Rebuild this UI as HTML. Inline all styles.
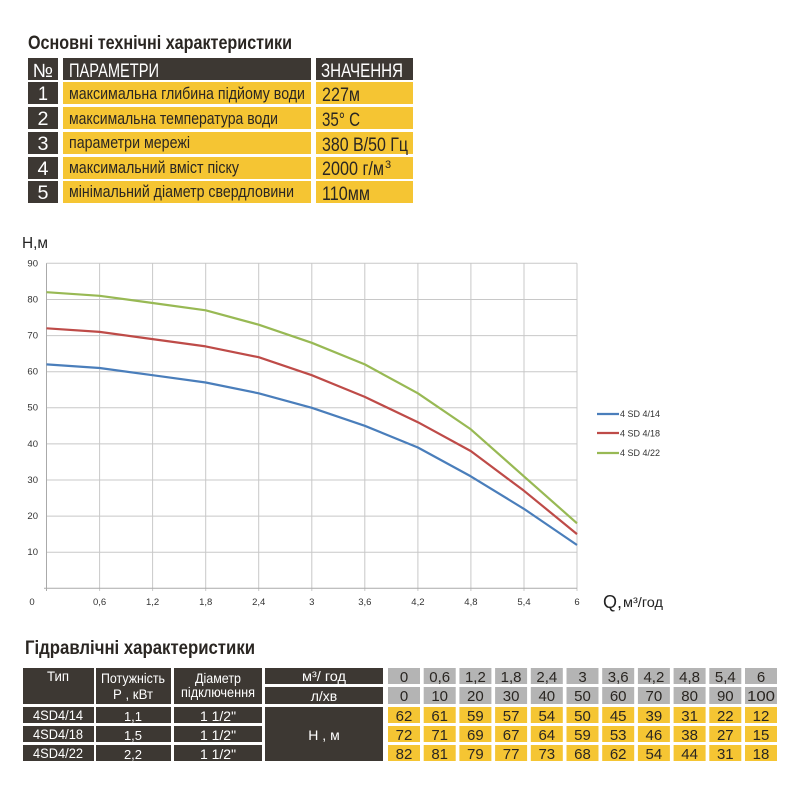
<!DOCTYPE html>
<html><head><meta charset="utf-8"><style>
html,body{margin:0;padding:0;background:#fff;}
svg{display:block;}
.t{font-family:"Liberation Sans Narrow","Liberation Sans",sans-serif;}
.c{font-family:"Liberation Sans",sans-serif;}
</style></head><body>
<svg width="800" height="800" viewBox="0 0 800 800" xmlns="http://www.w3.org/2000/svg">
<rect width="800" height="800" fill="#fff"/>
<text class="t" x="28" y="49" font-size="19" font-weight="bold" fill="#2a2622" textLength="264" lengthAdjust="spacingAndGlyphs">Основні технічні характеристики</text>
<g fill="#3d3833">
<rect x="28" y="58" width="30" height="22"/>
<rect x="63" y="58" width="248" height="22"/>
<rect x="316" y="58" width="97" height="22"/>
<rect x="28" y="82" width="30" height="22"/>
<rect x="28" y="107" width="30" height="22"/>
<rect x="28" y="132" width="30" height="22"/>
<rect x="28" y="157" width="30" height="22"/>
<rect x="28" y="181" width="30" height="22"/>
</g>
<g fill="#f5c533">
<rect x="63" y="82" width="248" height="22"/><rect x="316" y="82" width="97" height="22"/>
<rect x="63" y="107" width="248" height="22"/><rect x="316" y="107" width="97" height="22"/>
<rect x="63" y="132" width="248" height="22"/><rect x="316" y="132" width="97" height="22"/>
<rect x="63" y="157" width="248" height="22"/><rect x="316" y="157" width="97" height="22"/>
<rect x="63" y="181" width="248" height="22"/><rect x="316" y="181" width="97" height="22"/>
</g>
<g class="t" fill="#fff" font-size="19">
<text x="43" y="77" text-anchor="middle">№</text>
<text x="69" y="77" textLength="90" lengthAdjust="spacingAndGlyphs">ПАРАМЕТРИ</text>
<text x="321" y="77" textLength="82" lengthAdjust="spacingAndGlyphs">ЗНАЧЕННЯ</text>
<text x="43" y="100" text-anchor="middle" textLength="10" lengthAdjust="spacingAndGlyphs">1</text>
<text x="43" y="125" text-anchor="middle" textLength="11" lengthAdjust="spacingAndGlyphs">2</text>
<text x="43" y="150" text-anchor="middle" textLength="11" lengthAdjust="spacingAndGlyphs">3</text>
<text x="43" y="175" text-anchor="middle" textLength="11" lengthAdjust="spacingAndGlyphs">4</text>
<text x="43" y="199" text-anchor="middle" textLength="11" lengthAdjust="spacingAndGlyphs">5</text>
</g>
<g class="t" fill="#2a2622" font-size="17">
<text x="69" y="99" textLength="236" lengthAdjust="spacingAndGlyphs">максимальна глибина підйому води</text>
<text x="69" y="124" textLength="209" lengthAdjust="spacingAndGlyphs">максимальна температура води</text>
<text x="69" y="148" textLength="121" lengthAdjust="spacingAndGlyphs">параметри мережі</text>
<text x="69" y="173" textLength="170" lengthAdjust="spacingAndGlyphs">максимальний вміст піску</text>
<text x="69" y="197" textLength="225" lengthAdjust="spacingAndGlyphs">мінімальний діаметр свердловини</text>
</g>
<g class="t" fill="#2a2622" font-size="19">
<text x="322" y="101" textLength="38" lengthAdjust="spacingAndGlyphs">227м</text>
<text x="322" y="126" textLength="38" lengthAdjust="spacingAndGlyphs">35° C</text>
<text x="322" y="151" textLength="86" lengthAdjust="spacingAndGlyphs">380 В/50 Гц</text>
<text x="322" y="175" textLength="62" lengthAdjust="spacingAndGlyphs">2000 г/м</text>
<text x="385" y="168" font-size="11">3</text>
<text x="322" y="200" textLength="48" lengthAdjust="spacingAndGlyphs">110мм</text>
</g>

<text class="t" x="22" y="248" font-size="16" fill="#222" textLength="26" lengthAdjust="spacingAndGlyphs">Н,м</text>
<g stroke="#c8c8c8" stroke-width="1">
<line x1="46.5" y1="263.3" x2="577" y2="263.3"/>
<line x1="46.5" y1="299.5" x2="577" y2="299.5"/>
<line x1="46.5" y1="335.6" x2="577" y2="335.6"/>
<line x1="46.5" y1="371.7" x2="577" y2="371.7"/>
<line x1="46.5" y1="407.8" x2="577" y2="407.8"/>
<line x1="46.5" y1="443.9" x2="577" y2="443.9"/>
<line x1="46.5" y1="480" x2="577" y2="480"/>
<line x1="46.5" y1="516.1" x2="577" y2="516.1"/>
<line x1="46.5" y1="552.2" x2="577" y2="552.2"/>
<line x1="99.6" y1="263.3" x2="99.6" y2="591"/>
<line x1="152.6" y1="263.3" x2="152.6" y2="591"/>
<line x1="205.7" y1="263.3" x2="205.7" y2="591"/>
<line x1="258.7" y1="263.3" x2="258.7" y2="591"/>
<line x1="311.8" y1="263.3" x2="311.8" y2="591"/>
<line x1="364.8" y1="263.3" x2="364.8" y2="591"/>
<line x1="417.9" y1="263.3" x2="417.9" y2="591"/>
<line x1="470.9" y1="263.3" x2="470.9" y2="591"/>
<line x1="524" y1="263.3" x2="524" y2="591"/>
<line x1="577" y1="263.3" x2="577" y2="591"/>
</g>
<g stroke="#aaa" stroke-width="1">
<line x1="44" y1="588.3" x2="577" y2="588.3"/>
<line x1="46.5" y1="263.3" x2="46.5" y2="591"/>
</g>
<g class="c" font-size="9.5" fill="#333" text-anchor="end">
<text x="38" y="266.5">90</text><text x="38" y="302.5">80</text><text x="38" y="338.5">70</text>
<text x="38" y="374.5">60</text><text x="38" y="410.5">50</text><text x="38" y="447">40</text>
<text x="38" y="483">30</text><text x="38" y="519">20</text><text x="38" y="555">10</text>
</g>
<g class="c" font-size="9.5" fill="#333" text-anchor="middle">
<text x="32" y="605">0</text>
<text x="99.6" y="605">0,6</text><text x="152.6" y="605">1,2</text><text x="205.7" y="605">1,8</text>
<text x="258.7" y="605">2,4</text><text x="311.8" y="605">3</text><text x="364.8" y="605">3,6</text>
<text x="417.9" y="605">4,2</text><text x="470.9" y="605">4,8</text><text x="524" y="605">5,4</text>
<text x="577" y="605">6</text>
</g>
<text class="t" x="603" y="608" font-size="18" fill="#222">Q,</text>
<text class="t" x="623" y="607" font-size="14" fill="#222" textLength="40" lengthAdjust="spacingAndGlyphs">м³/год</text>
<g fill="none" stroke-width="2.2" stroke-linejoin="round">
<polyline stroke="#98b954" points="46.5,292.2 99.6,295.8 152.6,303 205.7,310.3 258.7,324.7 311.8,342.8 364.8,364.4 417.9,393.3 470.9,429.4 524,476.4 577,523.3"/>
<polyline stroke="#be4b48" points="46.5,328.3 99.6,331.9 152.6,339.1 205.7,346.4 258.7,357.2 311.8,375.2 364.8,396.9 417.9,422.2 470.9,451.1 524,490.8 577,534.1"/>
<polyline stroke="#4a7ebb" points="46.5,364.4 99.6,368 152.6,375.2 205.7,382.5 258.7,393.3 311.8,407.8 364.8,425.8 417.9,447.5 470.9,476.4 524,508.9 577,545"/>
</g>
<g stroke-width="2.2">
<line x1="597" y1="414" x2="619" y2="414" stroke="#4a7ebb"/>
<line x1="597" y1="433" x2="619" y2="433" stroke="#be4b48"/>
<line x1="597" y1="453" x2="619" y2="453" stroke="#98b954"/>
</g>
<g class="c" font-size="9" fill="#333">
<text x="620" y="417">4 SD 4/14</text>
<text x="620" y="436.5">4 SD 4/18</text>
<text x="620" y="456">4 SD 4/22</text>
</g>

<text class="t" x="25" y="654" font-size="19" font-weight="bold" fill="#2a2622" textLength="230" lengthAdjust="spacingAndGlyphs">Гідравлічні характеристики</text>
<g fill="#3d3833">
<rect x="23" y="668" width="71" height="36"/>
<rect x="96" y="668" width="75" height="36"/>
<rect x="174" y="668" width="88" height="36"/>
<rect x="265" y="668" width="118" height="16"/>
<rect x="265" y="687" width="118" height="17"/>
<rect x="23" y="707" width="71" height="16"/><rect x="96" y="707" width="75" height="16"/><rect x="174" y="707" width="88" height="16"/>
<rect x="23" y="726" width="71" height="16"/><rect x="96" y="726" width="75" height="16"/><rect x="174" y="726" width="88" height="16"/>
<rect x="23" y="745" width="71" height="16"/><rect x="96" y="745" width="75" height="16"/><rect x="174" y="745" width="88" height="16"/>
<rect x="265" y="707" width="118" height="54"/>
</g>
<g class="t" fill="#fff" font-size="14" text-anchor="middle">
<text x="58" y="681" textLength="22" lengthAdjust="spacingAndGlyphs">Тип</text>
<text x="133" y="683" textLength="64" lengthAdjust="spacingAndGlyphs">Потужність</text>
<text x="133" y="699" textLength="40" lengthAdjust="spacingAndGlyphs">Р , кВт</text>
<text x="218" y="683" textLength="46" lengthAdjust="spacingAndGlyphs">Діаметр</text>
<text x="218" y="697" textLength="74" lengthAdjust="spacingAndGlyphs">підключення</text>
<text x="324" y="681" textLength="44" lengthAdjust="spacingAndGlyphs">м³/ год</text>
<text x="324" y="701">л/хв</text>
<text x="58" y="720" textLength="50" lengthAdjust="spacingAndGlyphs">4SD4/14</text><text x="133" y="721" font-size="13">1,1</text><text x="218" y="721">1 1/2"</text>
<text x="58" y="739" textLength="50" lengthAdjust="spacingAndGlyphs">4SD4/18</text><text x="133" y="740" font-size="13">1,5</text><text x="218" y="740">1 1/2"</text>
<text x="58" y="758" textLength="50" lengthAdjust="spacingAndGlyphs">4SD4/22</text><text x="133" y="759" font-size="13">2,2</text><text x="218" y="759">1 1/2"</text>
<text x="324" y="740">Н , м</text>
</g>
<g class="t" font-size="15" text-anchor="middle" fill="#2a2622">
<g fill="#b4b4b4">
<rect x="388" y="668" width="32" height="16"/><rect x="423.7" y="668" width="32" height="16"/><rect x="459.4" y="668" width="32" height="16"/><rect x="495.1" y="668" width="32" height="16"/><rect x="530.8" y="668" width="32" height="16"/><rect x="566.5" y="668" width="32" height="16"/><rect x="602.2" y="668" width="32" height="16"/><rect x="637.9" y="668" width="32" height="16"/><rect x="673.6" y="668" width="32" height="16"/><rect x="709.3" y="668" width="32" height="16"/><rect x="745" y="668" width="32" height="16"/>
<rect x="388" y="687" width="32" height="17"/><rect x="423.7" y="687" width="32" height="17"/><rect x="459.4" y="687" width="32" height="17"/><rect x="495.1" y="687" width="32" height="17"/><rect x="530.8" y="687" width="32" height="17"/><rect x="566.5" y="687" width="32" height="17"/><rect x="602.2" y="687" width="32" height="17"/><rect x="637.9" y="687" width="32" height="17"/><rect x="673.6" y="687" width="32" height="17"/><rect x="709.3" y="687" width="32" height="17"/><rect x="745" y="687" width="32" height="17"/>
</g>
<g fill="#f5c533">
<rect x="388" y="707" width="32" height="16"/><rect x="423.7" y="707" width="32" height="16"/><rect x="459.4" y="707" width="32" height="16"/><rect x="495.1" y="707" width="32" height="16"/><rect x="530.8" y="707" width="32" height="16"/><rect x="566.5" y="707" width="32" height="16"/><rect x="602.2" y="707" width="32" height="16"/><rect x="637.9" y="707" width="32" height="16"/><rect x="673.6" y="707" width="32" height="16"/><rect x="709.3" y="707" width="32" height="16"/><rect x="745" y="707" width="32" height="16"/>
<rect x="388" y="726" width="32" height="16"/><rect x="423.7" y="726" width="32" height="16"/><rect x="459.4" y="726" width="32" height="16"/><rect x="495.1" y="726" width="32" height="16"/><rect x="530.8" y="726" width="32" height="16"/><rect x="566.5" y="726" width="32" height="16"/><rect x="602.2" y="726" width="32" height="16"/><rect x="637.9" y="726" width="32" height="16"/><rect x="673.6" y="726" width="32" height="16"/><rect x="709.3" y="726" width="32" height="16"/><rect x="745" y="726" width="32" height="16"/>
<rect x="388" y="745" width="32" height="16"/><rect x="423.7" y="745" width="32" height="16"/><rect x="459.4" y="745" width="32" height="16"/><rect x="495.1" y="745" width="32" height="16"/><rect x="530.8" y="745" width="32" height="16"/><rect x="566.5" y="745" width="32" height="16"/><rect x="602.2" y="745" width="32" height="16"/><rect x="637.9" y="745" width="32" height="16"/><rect x="673.6" y="745" width="32" height="16"/><rect x="709.3" y="745" width="32" height="16"/><rect x="745" y="745" width="32" height="16"/>
</g>
<g>
<text x="404" y="682">0</text><text x="439.7" y="682">0,6</text><text x="475.4" y="682">1,2</text><text x="511.1" y="682">1,8</text><text x="546.8" y="682">2,4</text><text x="582.5" y="682">3</text><text x="618.2" y="682">3,6</text><text x="653.9" y="682">4,2</text><text x="689.6" y="682">4,8</text><text x="725.3" y="682">5,4</text><text x="761" y="682">6</text>
<text x="404" y="701">0</text><text x="439.7" y="701">10</text><text x="475.4" y="701">20</text><text x="511.1" y="701">30</text><text x="546.8" y="701">40</text><text x="582.5" y="701">50</text><text x="618.2" y="701">60</text><text x="653.9" y="701">70</text><text x="689.6" y="701">80</text><text x="725.3" y="701">90</text><text x="761" y="701" textLength="28" lengthAdjust="spacingAndGlyphs">100</text>
<text x="404" y="721">62</text><text x="439.7" y="721">61</text><text x="475.4" y="721">59</text><text x="511.1" y="721">57</text><text x="546.8" y="721">54</text><text x="582.5" y="721">50</text><text x="618.2" y="721">45</text><text x="653.9" y="721">39</text><text x="689.6" y="721">31</text><text x="725.3" y="721">22</text><text x="761" y="721">12</text>
<text x="404" y="740">72</text><text x="439.7" y="740">71</text><text x="475.4" y="740">69</text><text x="511.1" y="740">67</text><text x="546.8" y="740">64</text><text x="582.5" y="740">59</text><text x="618.2" y="740">53</text><text x="653.9" y="740">46</text><text x="689.6" y="740">38</text><text x="725.3" y="740">27</text><text x="761" y="740">15</text>
<text x="404" y="759">82</text><text x="439.7" y="759">81</text><text x="475.4" y="759">79</text><text x="511.1" y="759">77</text><text x="546.8" y="759">73</text><text x="582.5" y="759">68</text><text x="618.2" y="759">62</text><text x="653.9" y="759">54</text><text x="689.6" y="759">44</text><text x="725.3" y="759">31</text><text x="761" y="759">18</text>
</g>
</g>
</svg>
</body></html>
